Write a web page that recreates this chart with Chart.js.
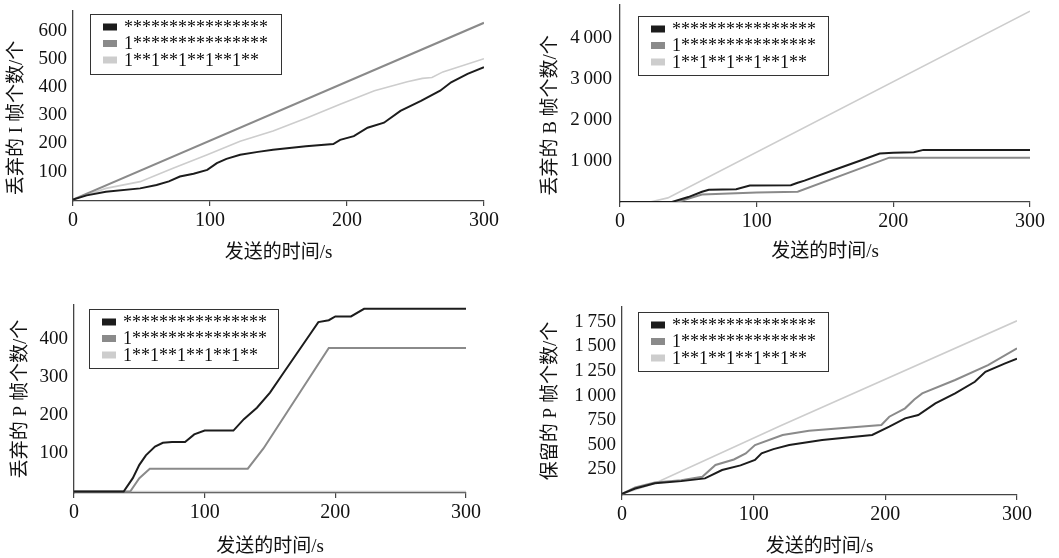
<!DOCTYPE html>
<html>
<head>
<meta charset="utf-8">
<script src="https://cdn.jsdelivr.net/npm/chart.js@4.4.1/dist/chart.umd.min.js"></script>
<style>
    html, body { margin: 0; padding: 0; background: #fff; }
    #wrap { position: relative; width: 1059px; height: 558px; overflow: hidden; }
    canvas { position: absolute; }
</style>
</head>
<body>
<div id="wrap">
    <canvas id="iDrop" width="530" height="270" style="left:0;top:0"></canvas>
    <canvas id="bDrop" width="529" height="270" style="left:530px;top:0"></canvas>
    <canvas id="pDrop" width="530" height="280" style="left:0;top:278px"></canvas>
    <canvas id="pKeep" width="529" height="280" style="left:530px;top:278px"></canvas>
</div>
<script>
'use strict';

// ---- data ----
const seriesNames = ['****************', '1***************', '1**1**1**1**1**'];
const timeTicks = [0, 100, 200, 300];

// dropped I frames
const iDropTicks = [100, 200, 300, 400, 500, 600];
const iBlackT = [0, 10, 24, 49, 61, 70, 78, 88, 98, 105, 112, 122, 135, 146, 170, 190, 195, 205, 215, 227, 239, 254, 268, 276, 288, 300];
const iBlackV = [0, 15, 28, 40, 52, 65, 82, 92, 106, 130, 145, 160, 170, 178, 190, 198, 213, 226, 256, 274, 316, 352, 388, 418, 448, 472];
const iGrayT = [0, 300];
const iGrayV = [0, 630];
const iLightT = [0, 24, 49, 73, 98, 122, 146, 171, 195, 220, 244, 255, 262, 270, 300];
const iLightV = [0, 40, 64, 112, 160, 208, 244, 292, 340, 388, 420, 432, 435, 455, 502];

// dropped B frames
const bDropTicks = [1000, 2000, 3000, 4000];
const bBlackT = [0, 38, 50, 60, 65, 85, 95, 125, 130, 135, 155, 175, 190, 200, 215, 222, 300];
const bBlackV = [0, 0, 120, 250, 300, 310, 400, 410, 470, 520, 760, 1000, 1180, 1200, 1210, 1270, 1270];
const bGrayT = [0, 42, 60, 100, 130, 197, 300];
const bGrayV = [0, 0, 180, 230, 250, 1080, 1080];
const bLightT = [0, 22, 35, 300];
const bLightV = [0, 0, 100, 4650];

// dropped P frames
const pDropTicks = [100, 200, 300, 400];
const pBlackT = [0, 38, 45, 50, 55, 62, 68, 75, 85, 92, 100, 122, 130, 140, 150, 160, 170, 180, 187, 195, 200, 212, 222, 300];
const pBlackV = [0, 0, 35, 70, 95, 118, 128, 130, 130, 150, 160, 160, 190, 220, 260, 310, 360, 410, 445, 450, 460, 460, 480, 480];
const pGrayT = [0, 43, 50, 58, 133, 145, 195, 300];
const pGrayV = [0, 0, 35, 60, 60, 113, 377, 377];
const pLightT = [0, 300];
const pLightV = [0, 0];

// kept P frames
const pKeepTicks = [250, 500, 750, 1000, 1250, 1500, 1750];
const kBlackT = [0, 10, 25, 45, 63, 76, 90, 101, 106, 115, 127, 152, 190, 203, 215, 225, 238, 253, 268, 276, 291, 300];
const kBlackV = [0, 55, 108, 130, 158, 243, 290, 345, 412, 455, 497, 548, 599, 683, 768, 802, 921, 1022, 1140, 1242, 1327, 1375];
const kGrayT = [0, 10, 25, 45, 61, 71, 85, 94, 101, 122, 142, 197, 203, 215, 222, 228, 253, 278, 300];
const kGrayV = [0, 65, 115, 140, 174, 294, 350, 412, 497, 599, 643, 700, 785, 870, 960, 1022, 1158, 1310, 1480];
const kLightT = [0, 25, 120, 300];
const kLightV = [0, 108, 690, 1760];

// ---- styling ----
const SERIF = '"Liberation Serif", "Noto Sans CJK SC", serif';
const INK = '#111';
const AXIS = '#444';
const lineStyles = [
    { color: '#1c1c1c', width: 2 },
    { color: '#8a8a8a', width: 2 },
    { color: '#cdcdcd', width: 1.6 }
];

function points(t, v) {
    return t.map((x, i) => ({ x: x, y: v[i] }));
}

function fmtThousands(v) {
    if (v < 1000) return String(v);
    return Math.floor(v / 1000) + '\u2009' + String(v % 1000).padStart(3, '0');
}

// legend drawn as a framed box inside the plot area
const boxLegend = {
    id: 'boxLegend',
    afterDraw(chart, args, opts) {
        const { ctx, chartArea } = chart;
        const x = Math.round(chartArea.left + opts.x);
        const y = Math.round(chartArea.top + opts.y);
        ctx.save();
        ctx.fillStyle = '#fff';
        ctx.fillRect(x, y, opts.width, opts.height);
        ctx.strokeStyle = '#333';
        ctx.lineWidth = 1;
        ctx.strokeRect(x + 0.5, y + 0.5, opts.width, opts.height);
        ctx.font = '18px ' + SERIF;
        ctx.textBaseline = 'middle';
        ctx.textAlign = 'left';
        chart.data.datasets.forEach((ds, i) => {
            const cy = y + 13 + i * 16.5;
            ctx.fillStyle = ds.borderColor;
            ctx.fillRect(x + 13, cy - 3.5, 14, 7);
            ctx.fillStyle = INK;
            ctx.fillText(ds.label, x + 34, cy + 1);
        });
        ctx.restore();
    }
};

function makePanel(id, cfg) {
    const series = [[cfg.t0, cfg.v0], [cfg.t1, cfg.v1], [cfg.t2, cfg.v2]];
    // first dataset is drawn on top by Chart.js, which keeps the black line above
    const datasets = series.map((s, i) => ({
        label: seriesNames[i],
        data: points(s[0], s[1]),
        borderColor: lineStyles[i].color,
        backgroundColor: lineStyles[i].color,
        borderWidth: lineStyles[i].width,
        pointRadius: 0,
        tension: 0,
        fill: false
    }));

    return new Chart(document.getElementById(id), {
        type: 'line',
        data: { datasets: datasets },
        options: {
            responsive: false,
            animation: false,
            events: [],
            layout: { padding: cfg.pad },
            plugins: {
                legend: { display: false },
                tooltip: { enabled: false },
                boxLegend: cfg.legend
            },
            scales: {
                x: {
                    type: 'linear',
                    min: 0,
                    max: 300,
                    afterBuildTicks: s => { s.ticks = timeTicks.map(v => ({ value: v })); },
                    afterFit: s => { s.height = cfg.xHeight; s.paddingLeft = 0; s.paddingRight = 0; },
                    grid: { display: true, drawOnChartArea: false, drawTicks: true, tickLength: 5, color: AXIS, lineWidth: 1.2 },
                    border: { display: true, color: AXIS, width: 1.3 },
                    ticks: { color: INK, padding: 3, maxRotation: 0, font: { family: SERIF, size: 20 } },
                    title: {
                        display: true,
                        text: '发送的时间/s',
                        color: INK,
                        font: { family: SERIF, size: 19 },
                        padding: { top: 0, bottom: cfg.xTitlePad }
                    }
                },
                y: {
                    type: 'linear',
                    min: cfg.yMin,
                    max: cfg.yMax,
                    afterBuildTicks: s => { s.ticks = cfg.yTicks.map(v => ({ value: v })); },
                    afterFit: s => { s.width = cfg.yWidth; s.paddingTop = 0; s.paddingBottom = 0; },
                    grid: { display: false, drawTicks: false },
                    border: { display: true, color: AXIS, width: 1.3 },
                    ticks: { color: INK, padding: cfg.yTickPad, font: { family: SERIF, size: 19 }, callback: v => fmtThousands(v) },
                    title: {
                        display: true,
                        text: cfg.yTitle,
                        color: INK,
                        font: { family: SERIF, size: 19 },
                        padding: { top: cfg.yTitlePad, bottom: 0 }
                    }
                }
            }
        },
        plugins: [boxLegend]
    });
}

makePanel('iDrop', {
    t0: iBlackT, v0: iBlackV, t1: iGrayT, v1: iGrayV, t2: iLightT, v2: iLightV,
    yTicks: iDropTicks, yMin: -5, yMax: 672, yTitle: '丢弃的 I 帧个数/个\u3000 ',
    pad: { left: 0, top: 11, right: 46, bottom: 0 }, yWidth: 73, xHeight: 69,
    yTickPad: 6, yTitlePad: 6, xTitlePad: 6,
    legend: { x: 17, y: 3, width: 191, height: 60 }
});

makePanel('bDrop', {
    t0: bBlackT, v0: bBlackV, t1: bGrayT, v1: bGrayV, t2: bLightT, v2: bLightV,
    yTicks: bDropTicks, yMin: 0, yMax: 4800, yTitle: '丢弃的 B 帧个数/个\u3000 ',
    pad: { left: 0, top: 5, right: 29, bottom: 0 }, yWidth: 90, xHeight: 68,
    yTickPad: 8, yTitlePad: 10, xTitlePad: 7,
    legend: { x: 18, y: 11, width: 190, height: 59 }
});

makePanel('pDrop', {
    t0: pBlackT, v0: pBlackV, t1: pGrayT, v1: pGrayV, t2: pLightT, v2: pLightV,
    yTicks: pDropTicks, yMin: -4, yMax: 490, yTitle: '丢弃的 P 帧个数/个',
    pad: { left: 0, top: 27, right: 64, bottom: 0 }, yWidth: 74, xHeight: 65,
    yTickPad: 6, yTitlePad: 9.6, xTitlePad: 0,
    legend: { x: 15, y: 4, width: 189, height: 59 }
});

makePanel('pKeep', {
    t0: kBlackT, v0: kBlackV, t1: kGrayT, v1: kGrayV, t2: kLightT, v2: kLightV,
    yTicks: pKeepTicks, yMin: -11, yMax: 1900, yTitle: '保留的 P 帧个数/个',
    pad: { left: 0, top: 29, right: 42, bottom: 0 }, yWidth: 92, xHeight: 63,
    yTickPad: 6, yTitlePad: 10, xTitlePad: 0,
    legend: { x: 16, y: 5, width: 190, height: 59 }
});
</script>
</body>
</html>
